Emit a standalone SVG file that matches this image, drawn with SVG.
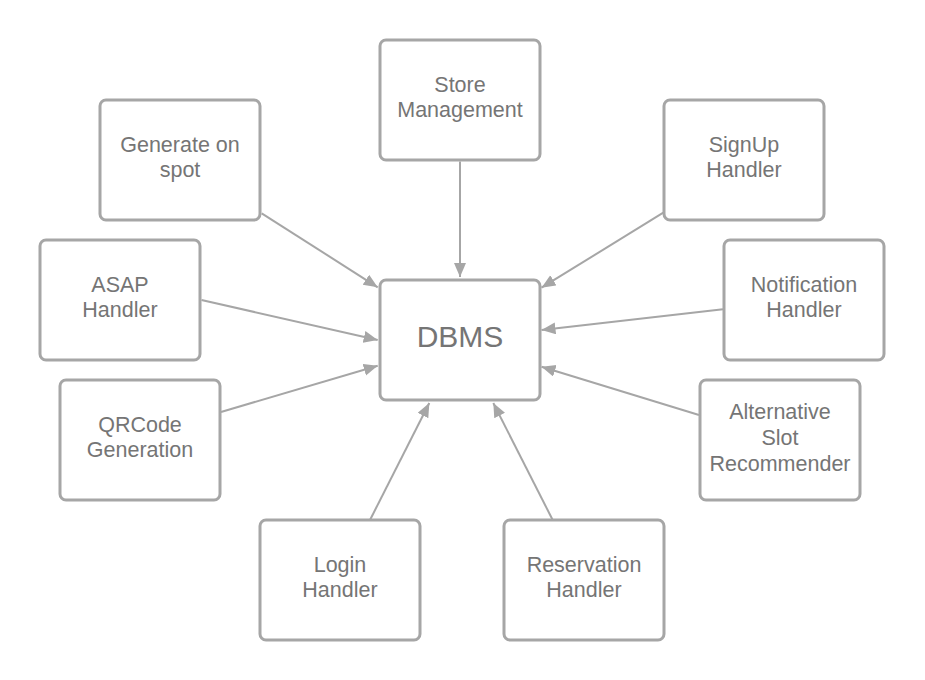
<svg xmlns="http://www.w3.org/2000/svg" width="925" height="680" viewBox="0 0 925 680">
<style>
.box{fill:#ffffff;stroke:#a6a6a6;stroke-width:3}
.lbl{font-family:"Liberation Sans",Arial,sans-serif;font-size:21.5px;fill:#757575;text-anchor:middle}
.big{font-family:"Liberation Sans",Arial,sans-serif;font-size:30px;fill:#757575;text-anchor:middle}
.con{fill:none;stroke:#a6a6a6;stroke-width:2;marker-end:url(#ah)}
</style>
<defs>
<marker id="ah" markerUnits="userSpaceOnUse" markerWidth="16" markerHeight="14" refX="14" refY="6" orient="auto">
<path d="M0,0 L14,6 L0,12 z" fill="#a6a6a6"/>
</marker>
</defs>
<rect width="925" height="680" fill="#ffffff"/>
<g id="connectors">
<path class="con" d="M460,161.5 L460,277"/>
<path class="con" d="M261.7,213.3 L377.7,287.3"/>
<path class="con" d="M663.3,212.7 L541.5,287.7"/>
<path class="con" d="M201.5,300 L377.7,340"/>
<path class="con" d="M723,309.3 L541.5,330"/>
<path class="con" d="M221,412 L377.7,365.7"/>
<path class="con" d="M699,415 L541.5,366.7"/>
<path class="con" d="M370,520 L429.3,403"/>
<path class="con" d="M552.7,520 L493.3,403"/>
</g>
<g id="dbms">
<rect class="box" x="380" y="280" width="160" height="120" rx="6"/>
<text class="big" x="460" y="347">DBMS</text>
</g>
<g id="store-management">
<rect class="box" x="380" y="40" width="160" height="120" rx="6"/>
<text class="lbl" x="460" y="91.7">Store</text>
<text class="lbl" x="460" y="117.3">Management</text>
</g>
<g id="generate-on-spot">
<rect class="box" x="100" y="100" width="160" height="120" rx="6"/>
<text class="lbl" x="180" y="151.7">Generate on</text>
<text class="lbl" x="180" y="177.3">spot</text>
</g>
<g id="signup-handler">
<rect class="box" x="664" y="100" width="160" height="120" rx="6"/>
<text class="lbl" x="744" y="151.7">SignUp</text>
<text class="lbl" x="744" y="177.3">Handler</text>
</g>
<g id="asap-handler">
<rect class="box" x="40" y="240" width="160" height="120" rx="6"/>
<text class="lbl" x="120" y="291.7">ASAP</text>
<text class="lbl" x="120" y="317.3">Handler</text>
</g>
<g id="notification-handler">
<rect class="box" x="724" y="240" width="160" height="120" rx="6"/>
<text class="lbl" x="804" y="291.7">Notification</text>
<text class="lbl" x="804" y="317.3">Handler</text>
</g>
<g id="qrcode-generation">
<rect class="box" x="60" y="380" width="160" height="120" rx="6"/>
<text class="lbl" x="140" y="431.7">QRCode</text>
<text class="lbl" x="140" y="457.3">Generation</text>
</g>
<g id="alternative-slot-recommender">
<rect class="box" x="700" y="380" width="160" height="120" rx="6"/>
<text class="lbl" x="780" y="419.3">Alternative</text>
<text class="lbl" x="780" y="445">Slot</text>
<text class="lbl" x="780" y="470.7">Recommender</text>
</g>
<g id="login-handler">
<rect class="box" x="260" y="520" width="160" height="120" rx="6"/>
<text class="lbl" x="340" y="571.7">Login</text>
<text class="lbl" x="340" y="597.3">Handler</text>
</g>
<g id="reservation-handler">
<rect class="box" x="504" y="520" width="160" height="120" rx="6"/>
<text class="lbl" x="584" y="571.7">Reservation</text>
<text class="lbl" x="584" y="597.3">Handler</text>
</g>
</svg>
